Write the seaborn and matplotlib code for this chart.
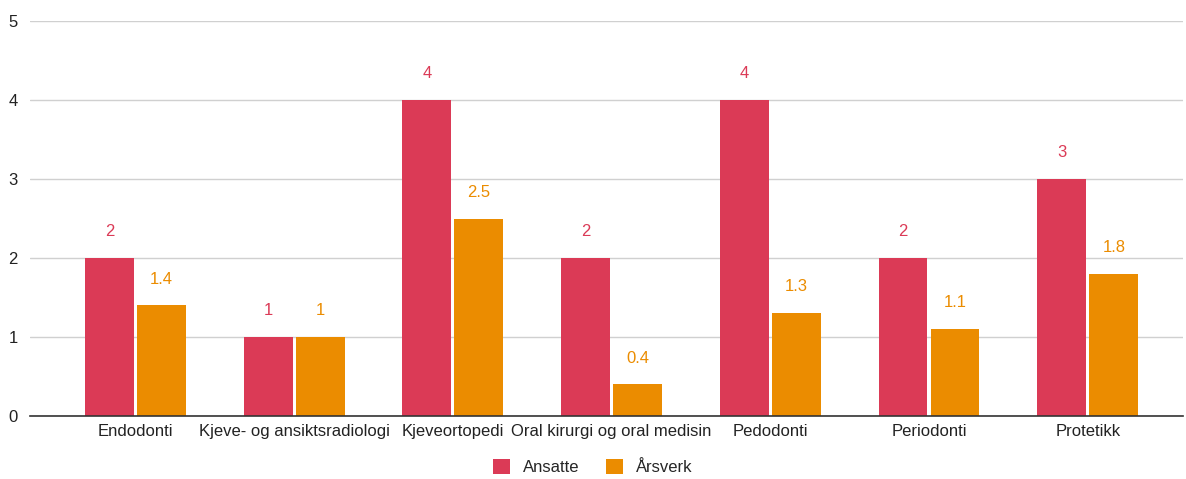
import matplotlib
matplotlib.use("Agg")
import matplotlib.pyplot as plt
import seaborn as sns
import pandas as pd
from matplotlib.patches import Patch

categories = ["Endodonti", "Kjeve- og ansiktsradiologi", "Kjeveortopedi",
              "Oral kirurgi og oral medisin", "Pedodonti", "Periodonti", "Protetikk"]
ansatte = [2, 1, 4, 2, 4, 2, 3]
arsverk = [1.4, 1, 2.5, 0.4, 1.3, 1.1, 1.8]
series_names = ["Ansatte", "Årsverk"]
colors = ["#DB3A56", "#EB8C00"]

df = pd.DataFrame({
    "cat": categories * 2,
    "val": ansatte + arsverk,
    "series": [series_names[0]] * len(categories) + [series_names[1]] * len(categories),
})

sns.set_theme(style="white")
plt.rcParams["font.family"] = ["Liberation Sans", "DejaVu Sans"]

fig = plt.figure(figsize=(11.86, 4.79), dpi=100)
ax = fig.add_axes([30 / 1186, 1 - 416 / 479, (1183 - 30) / 1186, (416 - 21) / 479])

sns.barplot(data=df, x="cat", y="val", hue="series", palette=colors,
            width=0.655, gap=0.06, ax=ax, legend=False, saturation=1, linewidth=0)

ax.set_ylim(0, 5)
ax.set_xlim(-0.664, 6.6)
ax.set_yticks([0, 1, 2, 3, 4, 5])
ax.set_yticklabels(["0", "1", "2", "3", "4", "5"])
ax.grid(axis="y", color="#d0d0d0", linewidth=1)
ax.set_axisbelow(True)
for s in ["top", "right", "left"]:
    ax.spines[s].set_visible(False)
ax.spines["bottom"].set_color("#333333")
ax.spines["bottom"].set_linewidth(1.2)
ax.set_xlabel("")
ax.set_ylabel("")
ax.tick_params(axis="y", length=0, pad=9, labelsize=12, labelcolor="#222222")
ax.tick_params(axis="x", length=0, pad=6, labelsize=12, labelcolor="#222222")

for container, col in zip(ax.containers, colors):
    for bar in container:
        h = bar.get_height()
        label = f"{h:g}"
        ax.annotate(label, (bar.get_x() + bar.get_width() / 2, h),
                    xytext=(0, 19), textcoords="offset points",
                    ha="center", va="center", color=col, fontsize=12)

handles = [Patch(facecolor=c, edgecolor="none") for c in colors]
fig.legend(handles, series_names, loc="center", bbox_to_anchor=(0.5, 1 - 467 / 479),
           ncol=2, frameon=False, fontsize=12, handlelength=1.0, handleheight=1.0,
           columnspacing=1.6, handletextpad=0.8)

fig.savefig("out.png", dpi=100)
